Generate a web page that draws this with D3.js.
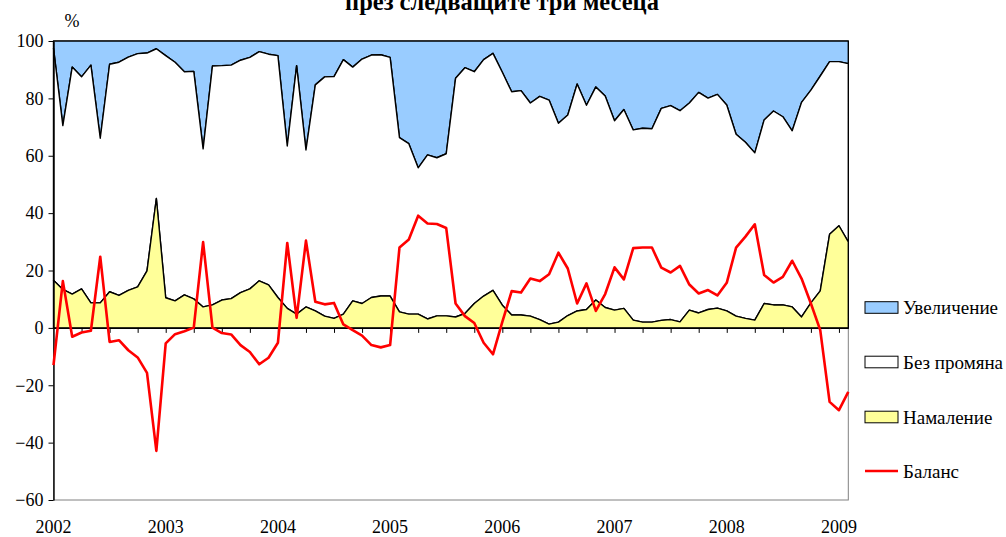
<!DOCTYPE html>
<html>
<head>
<meta charset="utf-8">
<script src="https://cdn.jsdelivr.net/npm/d3@7"></script>
<style>
body { margin: 0; background: #fff; }
svg text { font-family: "Liberation Serif", "Times New Roman", "DejaVu Serif", serif; fill: #000; }
</style>
</head>
<body>
<svg id="chart" width="1006" height="537"></svg>
<script>
// monthly survey shares, Jan 2002 .. Feb 2009 (%)
var increase = [2.5, 29.5, 9.1, 12.5, 8.4, 33.9, 8.1, 7.4, 5.6, 4.4, 4.2, 2.7,
    5.1, 7.4, 10.7, 10.6, 37.6, 8.7, 8.6, 8.4, 6.7, 5.7, 3.7, 4.6,
    5.1, 36.6, 8.6, 38.0, 15.3, 12.5, 12.4, 6.5, 9.1, 6.3, 4.9, 4.8,
    5.7, 33.7, 35.8, 44.2, 39.7, 40.7, 39.3, 13.0, 9.3, 10.7, 6.5, 4.3,
    10.9, 17.7, 17.3, 21.6, 19.3, 20.6, 28.7, 25.8, 15.0, 22.4, 16.0, 19.2,
    27.8, 23.9, 31.0, 30.4, 30.6, 23.5, 22.5, 24.3, 21.6, 17.9, 19.9, 18.6,
    22.3, 32.5, 35.3, 39.0, 27.5, 24.4, 26.4, 31.3, 21.4, 17.1, 12.2, 7.2,
    7.2, 7.9];
var noChange = [80.9, 57.1, 79.1, 73.9, 82.9, 57.4, 79.3, 81.3, 81.3, 81.3, 75.9, 52.2,
    84.4, 83.2, 77.8, 79.3, 55.1, 83.3, 81.7, 81.4, 81.0, 80.7, 79.9, 80.4,
    84.3, 56.6, 86.6, 54.7, 78.8, 83.4, 84.3, 88.7, 81.5, 85.2, 84.5, 84.1,
    83.2, 60.7, 59.4, 51.0, 57.2, 55.1, 56.5, 83.2, 85.7, 80.8, 82.4, 82.6,
    81.2, 77.8, 78.2, 74.3, 77.8, 78.1, 69.3, 69.9, 79.1, 71.2, 74.3, 73.7,
    66.0, 69.3, 66.3, 67.6, 67.4, 73.9, 74.6, 73.6, 72.2, 76.9, 73.7, 74.5,
    71.8, 63.4, 61.4, 58.3, 64.0, 67.6, 65.6, 61.4, 74.8, 74.2, 74.9, 60.2,
    57.2, 62.1];
var decrease = [16.6, 13.4, 11.8, 13.6, 8.7, 8.7, 12.6, 11.3, 13.1, 14.3, 19.9, 45.1,
    10.5, 9.4, 11.5, 10.1, 7.3, 8.0, 9.7, 10.2, 12.3, 13.6, 16.4, 15.0,
    10.6, 6.8, 4.8, 7.3, 5.9, 4.1, 3.3, 4.8, 9.4, 8.5, 10.6, 11.1,
    11.1, 5.6, 4.8, 4.8, 3.1, 4.2, 4.2, 3.8, 5.0, 8.5, 11.1, 13.1,
    7.9, 4.5, 4.5, 4.1, 2.9, 1.3, 2.0, 4.3, 5.9, 6.4, 9.7, 7.1,
    6.2, 6.8, 2.7, 2.0, 2.0, 2.6, 2.9, 2.1, 6.2, 5.2, 6.4, 6.9,
    5.9, 4.1, 3.3, 2.7, 8.5, 8.0, 8.0, 7.3, 3.8, 8.7, 12.9, 32.6,
    35.6, 30.0];
var balance = [-13.0, 16.3, -3.1, -1.6, -1.0, 24.8, -4.9, -4.3, -7.8, -10.3, -15.7, -42.9,
    -5.4, -2.2, -1.2, 0.1, 29.9, 0.1, -1.8, -2.3, -6.0, -8.4, -12.7, -10.4,
    -5.2, 29.6, 3.5, 30.4, 9.1, 8.2, 8.7, 1.2, -0.8, -2.7, -6.0, -6.8,
    -6.0, 28.0, 30.8, 39.1, 36.4, 36.2, 34.8, 8.5, 4.1, 1.7, -5.2, -9.2,
    2.1, 12.8, 12.3, 17.2, 16.3, 18.7, 26.2, 20.7, 8.5, 15.5, 5.9, 11.8,
    21.1, 16.9, 27.8, 28.0, 28.0, 21.0, 19.3, 21.6, 15.1, 12.0, 13.2, 11.3,
    15.7, 28.0, 31.8, 36.1, 18.4, 15.8, 17.8, 23.4, 17.2, 8.5, -0.8, -25.8,
    -28.7, -22.3];

var yearLabels = ["2002", "2003", "2004", "2005", "2006", "2007", "2008", "2009"];
var yTicks = [-60, -40, -20, 0, 20, 40, 60, 80, 100];
var legendNames = ["Увеличение", "Без промяна", "Намаление", "Баланс"];
var titleText = "през следващите три месеца";

var months = d3.timeMonths(new Date(2002, 0, 1), new Date(2009, 2, 1));

var chart = d3.select("#chart");

// plot box
var plotLeft = 53.5, plotRight = 848.3, plotTop = 41, plotBottom = 500;
var x = d3.scalePoint().domain(d3.range(months.length)).range([plotLeft, plotRight]);
var y = d3.scaleLinear().domain([-60, 100]).range([plotBottom, plotTop]);

// stacked shares: decrease at the bottom, increase on top
var rows = months.map(function(m, i) {
    return { dec: decrease[i], same: noChange[i], inc: increase[i] };
});
var stacked = d3.stack().keys(["dec", "same", "inc"])(rows);
var fills = { dec: "#FFFF99", same: "#FFFFFF", inc: "#99CCFF" };

// plot area frame
chart.append("rect")
    .attr("x", plotLeft).attr("y", plotTop)
    .attr("width", plotRight - plotLeft).attr("height", plotBottom - plotTop)
    .attr("fill", "none").attr("stroke", "#808080").attr("stroke-width", 1);

var area = d3.area()
    .x(function(d, i) { return x(i); })
    .y0(function(d) { return y(d[0]); })
    .y1(function(d) { return y(d[1]); });

chart.selectAll("path.share")
    .data(stacked.slice().reverse())
    .enter().append("path")
    .attr("class", "share")
    .attr("d", area)
    .attr("fill", function(d) { return fills[d.key]; })
    .attr("stroke", "#000")
    .attr("stroke-width", 1.4)
    .attr("stroke-linejoin", "round");

// zero axis with quarter ticks
var xAxis = chart.append("g")
    .attr("transform", "translate(0," + y(0) + ")")
    .call(d3.axisBottom(x)
        .tickValues(d3.range(3, months.length, 3))
        .tickSize(5).tickSizeOuter(0)
        .tickFormat(""));
xAxis.select(".domain").attr("stroke", "#000").attr("stroke-width", 1.4);
xAxis.selectAll(".tick line").attr("stroke", "#000");

// year labels under the plot
chart.selectAll("text.year")
    .data(yearLabels)
    .enter().append("text")
    .attr("class", "year")
    .attr("x", function(d, i) { return x(i * 12); })
    .attr("y", 533)
    .attr("text-anchor", "middle")
    .style("font-size", "18px")
    .text(function(d) { return d; });

// value axis
var yAxis = chart.append("g")
    .attr("transform", "translate(" + plotLeft + ",0)")
    .call(d3.axisLeft(y).tickValues(yTicks).tickSize(5).tickSizeOuter(0).tickPadding(5));
yAxis.select(".domain").attr("stroke", "#000").attr("stroke-width", 1.4);
yAxis.selectAll(".tick line").attr("stroke", "#000");
yAxis.selectAll(".tick text")
    .style("font-size", "18px")
    .attr("fill", "#000");

// balance line
var line = d3.line()
    .x(function(d, i) { return x(i); })
    .y(function(d) { return y(d); });

chart.append("path")
    .datum(balance)
    .attr("d", line)
    .attr("fill", "none")
    .attr("stroke", "#FF0000")
    .attr("stroke-width", 2.6)
    .attr("stroke-linejoin", "round");

// unit and title
chart.append("text")
    .attr("x", 72).attr("y", 27)
    .attr("text-anchor", "middle")
    .style("font-size", "18px")
    .text("%");

chart.append("text")
    .attr("x", 502).attr("y", 10)
    .attr("text-anchor", "middle")
    .style("font-size", "24.5px")
    .style("font-weight", "bold")
    .text(titleText);

// legend
var legendY = [307.5, 362, 417, 471];
var legendFill = ["#99CCFF", "#FFFFFF", "#FFFF99", null];
var legend = chart.selectAll("g.legend")
    .data(legendNames)
    .enter().append("g")
    .attr("class", "legend")
    .attr("transform", function(d, i) { return "translate(865," + legendY[i] + ")"; });

legend.each(function(d, i) {
    var g = d3.select(this);
    if (legendFill[i]) {
        g.append("rect")
            .attr("x", 0).attr("y", -5.8)
            .attr("width", 33).attr("height", 11.6)
            .attr("fill", legendFill[i])
            .attr("stroke", "#000").attr("stroke-width", 1);
    } else {
        g.append("line")
            .attr("x1", 0).attr("x2", 33)
            .attr("y1", 0).attr("y2", 0)
            .attr("stroke", "#FF0000").attr("stroke-width", 2.6);
    }
    g.append("text")
        .attr("x", 38).attr("y", 6.5)
        .style("font-size", "19px")
        .text(d);
});
</script>
</body>
</html>
